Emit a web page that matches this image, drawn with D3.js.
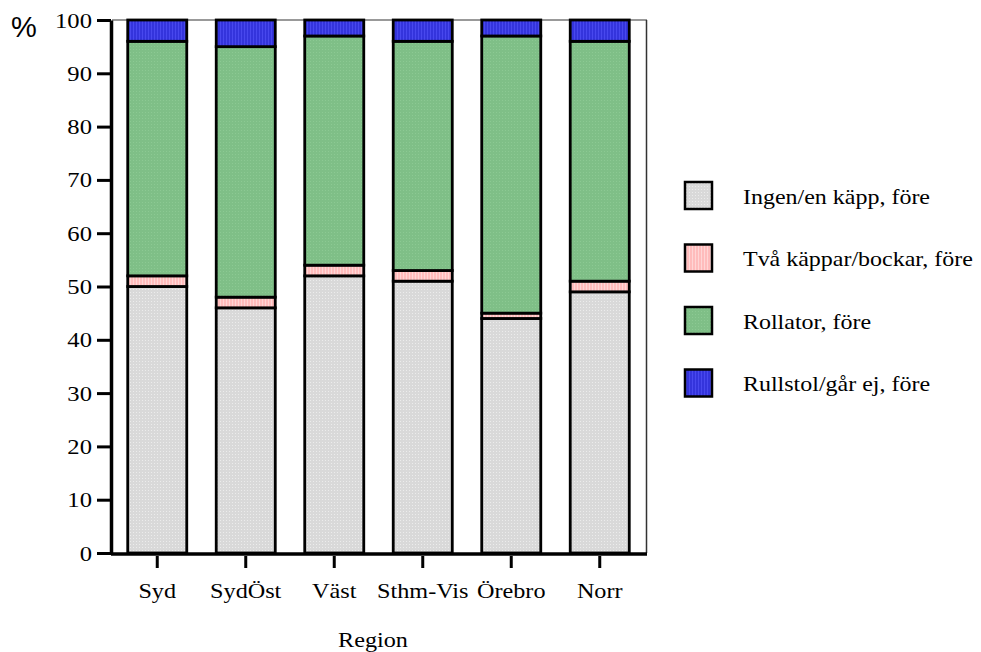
<!DOCTYPE html>
<html>
<head>
<meta charset="utf-8">
<script src="https://cdn.jsdelivr.net/npm/d3@7"></script>
<style>
  body { margin: 0; background: #fff; }
  svg text.serif { font-family: "Liberation Serif", "Tinos", "Times New Roman", serif; transform-box: fill-box; }
</style>
</head>
<body>
<div id="chart"></div>
<script>
const regions = ["Syd", "SydÖst", "Väst", "Sthm-Vis", "Örebro", "Norr"];
const seriesNames = ["Ingen/en käpp, före", "Två käppar/bockar, före", "Rollator, före", "Rullstol/går ej, före"];
const ingen = [50, 46, 52, 51, 44, 49];
const tva = [2, 2, 2, 2, 1, 2];
const rollator = [44, 47, 43, 43, 52, 45];
const rullstol = [4, 5, 3, 4, 3, 4];
const yTicks = [0, 10, 20, 30, 40, 50, 60, 70, 80, 90, 100];

function drawChart() {
  const width = 981, height = 652;
  const svg = d3.create("svg").attr("width", width).attr("height", height);

  // textures, roughly like the original fills
  const defs = svg.append("defs");
  const patterns = [
    { id: "p0", base: "#d9d9d9", dot: "#ececec", kind: "dot" },
    { id: "p1", base: "#ffbcbc", dot: "#ffd6d6", kind: "stripe" },
    { id: "p2", base: "#7fbf87", dot: "#8cc993", kind: "dot" },
    { id: "p3", base: "#3434dc", dot: "#4848ee", kind: "stripe" }
  ];
  patterns.forEach(p => {
    const pat = defs.append("pattern").attr("id", p.id)
      .attr("patternUnits", "userSpaceOnUse").attr("width", 3).attr("height", 3);
    pat.append("rect").attr("width", 3).attr("height", 3).attr("fill", p.base);
    if (p.kind === "dot") {
      pat.append("rect").attr("x", 1).attr("y", 1).attr("width", 1).attr("height", 1).attr("fill", p.dot);
    } else {
      pat.append("rect").attr("x", 1).attr("width", 1).attr("height", 3).attr("fill", p.dot);
    }
  });

  const x = d3.scaleBand().domain(regions).range([113, 644]).paddingInner(0.333).paddingOuter(0.1665);
  const y = d3.scaleLinear().domain([0, 100]).range([553, 20]);

  const table = regions.map((r, i) => ({ region: r, s0: ingen[i], s1: tva[i], s2: rollator[i], s3: rullstol[i] }));
  const stack = d3.stack().keys(["s0", "s1", "s2", "s3"]);
  const layers = stack(table);

  // frame (top and right)
  svg.append("line").attr("x1", 112).attr("x2", 647).attr("y1", y(100)).attr("y2", y(100))
    .attr("stroke", "#777").attr("stroke-width", 1.5);
  svg.append("line").attr("x1", 646.5).attr("x2", 646.5).attr("y1", y(100)).attr("y2", y(0))
    .attr("stroke", "#333").attr("stroke-width", 1.5);

  // bars
  svg.append("g")
    .selectAll("g")
    .data(layers)
    .join("g")
    .attr("fill", (d, i) => `url(#p${i})`)
    .selectAll("rect")
    .data(d => d)
    .join("rect")
    .attr("x", d => x(d.data.region))
    .attr("width", x.bandwidth())
    .attr("y", d => y(d[1]))
    .attr("height", d => y(d[0]) - y(d[1]))
    .attr("stroke", "#000")
    .attr("stroke-width", 2.8);

  // y axis
  const yAxis = svg.append("g").attr("transform", "translate(111,0)")
    .call(d3.axisLeft(y).tickValues(yTicks).tickSize(14).tickPadding(5).tickSizeOuter(0));
  yAxis.select(".domain").attr("stroke-width", 3.5);
  yAxis.selectAll(".tick line").attr("stroke-width", 3);
  yAxis.selectAll(".tick text").attr("class", "serif").attr("font-size", 22).attr("fill", "#000")
    .style("transform-origin", "right center").style("transform", "scaleX(1.12)");

  // x axis
  const xAxis = svg.append("g").attr("transform", "translate(0,554)")
    .call(d3.axisBottom(x).tickSize(14).tickPadding(14).tickSizeOuter(0));
  xAxis.select(".domain").attr("stroke-width", 3.5).attr("d", "M111,0H647");
  xAxis.selectAll(".tick line").attr("stroke-width", 3).attr("y1", 2);
  xAxis.selectAll(".tick text").attr("class", "serif").attr("font-size", 22).attr("fill", "#000")
    .style("transform-origin", "center center").style("transform", "scaleX(1.1)");

  // axis titles
  svg.append("text").attr("x", 11).attr("y", 37)
    .attr("font-size", 29).style("font-family", "'Liberation Sans', Arial, sans-serif")
    .text("%");
  svg.append("text").attr("class", "serif").attr("x", 373).attr("y", 647).attr("text-anchor", "middle")
    .attr("font-size", 22).style("transform-origin", "center center").style("transform", "scaleX(1.1)")
    .text("Region");

  // legend
  const legend = svg.append("g").attr("transform", "translate(685,182)")
    .selectAll("g")
    .data(seriesNames)
    .join("g")
    .attr("transform", (d, i) => `translate(0,${i * 62.5})`);
  legend.append("rect").attr("width", 27).attr("height", 27)
    .attr("fill", (d, i) => `url(#p${i})`).attr("stroke", "#000").attr("stroke-width", 2.5);
  legend.append("text").attr("class", "serif").attr("x", 58).attr("y", 14).attr("dy", "0.35em")
    .attr("font-size", 22).style("transform-origin", "left center").style("transform", "scaleX(1.09)")
    .text(d => d);

  d3.select("#chart").node().appendChild(svg.node());
}
drawChart();
</script>
</body>
</html>
